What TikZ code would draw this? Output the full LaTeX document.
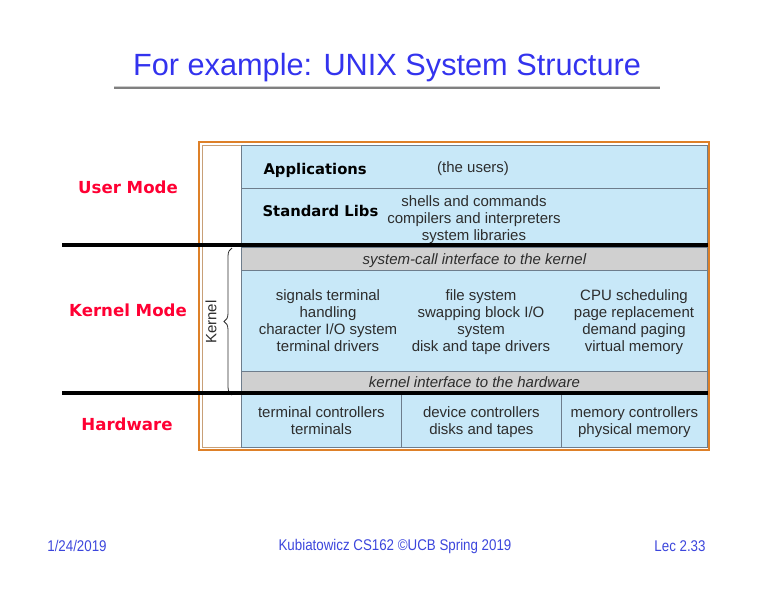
\documentclass[tikz,border=0pt]{standalone}
\usepackage{fontspec}
\setmainfont{Liberation Sans}
\newfontfamily\comicfont{DejaVu Sans}
\newfontfamily\footfont[FakeStretch=0.86]{Liberation Sans}
\usetikzlibrary{decorations.pathreplacing}

\definecolor{titleblue}{RGB}{51,51,238}
\definecolor{cellblue}{RGB}{200,232,248}
\definecolor{cellgray}{RGB}{208,208,208}
\definecolor{cellline}{RGB}{110,125,140}
\definecolor{frameorange}{RGB}{222,128,40}
\definecolor{frametan}{RGB}{200,160,120}
\definecolor{modered}{RGB}{255,0,51}
\definecolor{textgray}{RGB}{45,45,45}
\definecolor{footblue}{RGB}{60,70,220}

\tikzset{
  cell/.style={draw=cellline, line width=0.8pt, fill=cellblue, inner sep=0pt, anchor=north west},
  band/.style={cell, fill=cellgray},
  layertext/.style={text=textgray, align=center, inner sep=0pt, yshift=-2pt, font=\fontsize{15}{17}\selectfont,
    execute at begin node=\strut, execute at end node=\strut},
  bandtext/.style={layertext, font=\fontsize{15}{17}\selectfont\itshape},
  layername/.style={anchor=west, font=\comicfont\bfseries\fontsize{14.8}{17}\selectfont},
  modename/.style={text=modered, font=\comicfont\bfseries\fontsize{16.6}{20}\selectfont},
  moderule/.style={line width=4pt, black},
  footer/.style={text=footblue, font=\footfont\fontsize{15.5}{18}\selectfont}
}

\begin{document}
\begin{tikzpicture}[x=1pt, y=-1pt]
  \useasboundingbox (0,0) rectangle (768,595);

  \node[text=titleblue, font=\fontsize{30.7}{34}\selectfont] (title) at (387,68) {For example: UNIX System Structure};
  \draw[line width=3pt, gray] (114,87) -- (660,87);
  \draw[line width=0.8pt, white!60!gray] (114,86.5) -- (660,86.5);

  \draw[frameorange, line width=1.5pt] (199,142) rectangle (709,450);
  \draw[frametan, line width=0.7pt] (202.5,145) rectangle (705.5,447);

  \node[cell, minimum width=466pt, minimum height=43pt] (apps) at (241,145) {};
  \node[cell, minimum width=466pt, minimum height=57pt] (libs) at (241,188) {};
  \node[band, minimum width=466pt, minimum height=23pt] (sysCall) at (241,247) {};
  \node[cell, minimum width=466pt, minimum height=101pt] (core) at (241,270) {};
  \node[band, minimum width=466pt, minimum height=23pt] (kernelIf) at (241,371) {};
  \node[cell, minimum width=160pt, minimum height=53pt] (hwTerm) at (241,394) {};
  \node[cell, minimum width=160pt, minimum height=53pt] (hwDev) at (401,394) {};
  \node[cell, minimum width=146pt, minimum height=53pt] (hwMem) at (561,394) {};

  \node[layername] (appsName) at (260,170) {Applications};
  \node[layertext] (appsText) at (473,167) {(the users)};
  \node[layername] (libsName) at (259,211) {Standard Libs};
  \node[layertext] (libsText) at (474,219) {shells and commands\\compilers and interpreters\\system libraries};

  \node[bandtext] (sysCallText) at (sysCall.center) {system-call interface to the kernel};
  \node[layertext] (coreTerm) at (328,321) {signals terminal\\handling\\character I/O system\\terminal drivers};
  \node[layertext] (coreFile) at (481,321) {file system\\swapping block I/O\\system\\disk and tape drivers};
  \node[layertext] (coreCpu) at (634,321) {CPU scheduling\\page replacement\\demand paging\\virtual memory};
  \node[bandtext, yshift=1pt] (kernelIfText) at (kernelIf.center) {kernel interface to the hardware};

  \node[layertext] (hwTermText) at (hwTerm.center) {terminal controllers\\terminals};
  \node[layertext] (hwDevText) at (hwDev.center) {device controllers\\disks and tapes};
  \node[layertext] (hwMemText) at (hwMem.center) {memory controllers\\physical memory};

  \coordinate (braceTop) at (232,248);
  \coordinate (braceBot) at (232,395);
  \draw[textgray, line width=0.8pt, decorate, decoration={brace, amplitude=8pt}] (braceBot) -- (braceTop);
  \node[layertext, rotate=90] (kernelName) at (213,320) {Kernel};

  \draw[moderule] (62,245) -- (708,245);
  \draw[moderule] (62,393) -- (708,393);

  \node[modename] (userMode) at (128,187) {User Mode};
  \node[modename] (kernelMode) at (128,310) {Kernel Mode};
  \node[modename] (hwMode) at (127,424) {Hardware};

  \node[footer] (date) at (77,546) {1/24/2019};
  \node[footer] (course) at (395,546) {Kubiatowicz CS162 ©UCB Spring 2019};
  \node[footer] (lec) at (680,546) {Lec 2.33};
\end{tikzpicture}
\end{document}
